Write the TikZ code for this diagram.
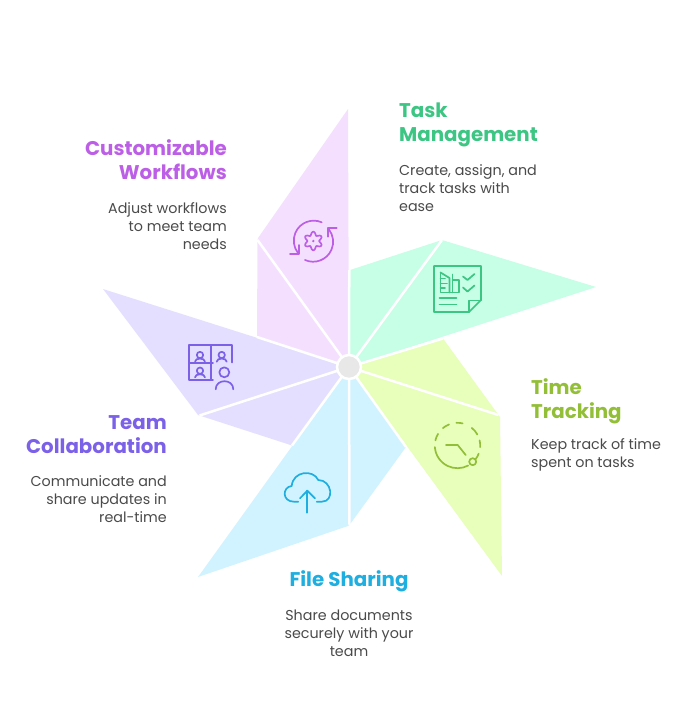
\documentclass[tikz,border=0pt]{standalone}
\usepackage{fontspec}
\usepackage{xcolor}
\usepackage{tikz}
\usetikzlibrary{positioning}
\setmainfont{Poppins}
\definecolor{taskfill}{HTML}{C7FEE6}
\definecolor{timefill}{HTML}{E7FFBA}
\definecolor{filefill}{HTML}{D1F3FF}
\definecolor{teamfill}{HTML}{E5DFFF}
\definecolor{flowfill}{HTML}{F4E0FE}
\definecolor{taskink}{HTML}{3CC583}
\definecolor{timeink}{HTML}{93BF38}
\definecolor{fileink}{HTML}{1FAEE0}
\definecolor{teamink}{HTML}{7B61E8}
\definecolor{flowink}{HTML}{BC5FE6}
\definecolor{bodyink}{HTML}{4A4A4A}
\tikzset{
	gap/.style={white, line width=2.5pt},
	icon/.style={line width=1.7pt, line join=round, line cap=round},
	title/.style={inner sep=0pt, font=\fontsize{19.8}{24}\selectfont\bfseries, text depth=0pt},
	body/.style={inner sep=0pt, text=bodyink, font=\fontsize{14.3}{18}\selectfont}
}

\begin{document}
\begin{tikzpicture}[x=1pt, y=-1pt]
	\useasboundingbox (0,0) rectangle (698,710);
	
	\coordinate (hub) at (349,367);
	\coordinate (taskA) at (349.3,270);
	\coordinate (taskB) at (442,240);
	\coordinate (taskC) at (596,287);
	\coordinate (timeA) at (443,338.5);
	\coordinate (timeB) at (498.5,415);
	\coordinate (timeC) at (502,576);
	\coordinate (fileA) at (406,447);
	\coordinate (fileB) at (349.5,525);
	\coordinate (fileC) at (198,577);
	\coordinate (teamA) at (292,445.5);
	\coordinate (teamB) at (199.5,415.5);
	\coordinate (teamC) at (103,289);
	\coordinate (flowA) at (257,337);
	\coordinate (flowB) at (257.5,240);
	\coordinate (flowC) at (348,109);
	
	\fill[taskfill] (hub) -- (taskA) -- (350.7,269.8) -- (taskB) -- (taskC) -- cycle;
	\fill[timefill] (hub) -- (timeA) -- (timeB) -- (500,417) -- (timeC) -- cycle;
	\fill[filefill] (hub) -- (fileA) -- (fileB) -- (348,526) -- (fileC) -- cycle;
	\fill[teamfill] (hub) -- (teamA) -- (teamB) -- (198,415) -- (teamC) -- cycle;
	\fill[flowfill] (hub) -- (flowA) -- (flowB) -- (258,238) -- (flowC) -- cycle;
	
	\foreach \corner in {taskA,taskB,timeA,timeB,fileA,fileB,teamA,teamB,flowA,flowB}
		\draw[gap] (hub) -- (\corner);
	\node[circle, draw=white, line width=2.5pt, fill=black!9, minimum size=24pt, inner sep=0pt] (hubdisc) at (hub) {};
	
	% task icon
	\begin{scope}[icon, draw=taskink]
		\draw (481,300) -- (481,266) -- (434,266) -- (434,312) -- (469,312) -- cycle;
		\draw (469,312) -- (469,300.5) -- (481,300.5);
		\draw (439.5,298) -- (456.5,298);
		\draw (439.5,304.5) -- (456.5,304.5);
		\draw (463,276.5) -- (467.5,280) -- (474.5,274);
		\draw (463,287.5) -- (467.5,291.5) -- (474.5,285.5);
		\draw (440.5,272.5) -- (440.5,292.5) -- (459,292.5) -- (459,280) -- (452.5,280);
		\draw (440.5,272.5) -- (449.5,278) -- (449.5,292.5);
		\draw (452.5,274.5) -- (452.5,292.5);
		\draw (440.5,278.5) -- (445,278.5);
		\draw (440.5,283.5) -- (447,283.5);
		\draw (440.5,288) -- (445,288);
	\end{scope}
	
	% workflow icon
	\begin{scope}[icon, draw=flowink]
		\draw (321.7,222.3) arc[start angle=293.4, end angle=142, radius=20];
		\draw (305,260) arc[start angle=114, end angle=-38, radius=20];
		\draw (290,254.3) -- (299,254.3) -- (299,245);
		\draw (336.7,227.7) -- (327.7,227.7) -- (327.7,236.7);
		\draw plot[domain=0:360, samples=61, smooth] ({313.3+(7.6-1.7*cos(6*\x))*cos(\x)}, {241+(7.6-1.7*cos(6*\x))*sin(\x)});
		\fill[flowink] (313.3,241) circle[radius=1.3pt];
	\end{scope}
	
	% team icon
	\begin{scope}[icon, draw=teamink]
		\draw (231.7,362.5) -- (231.7,345) -- (189.3,345) -- (189.3,380) -- (213,380);
		\draw (210.7,345) -- (210.7,380);
		\draw (189.3,362.7) -- (213,362.7);
		\foreach \px/\py in {200/355, 221.7/355, 200/370.7} {
			\draw (\px,\py) circle[radius=3.2pt];
			\draw (\px-5,\py+6.7) .. controls (\px-5,\py+2.5) and (\px+5,\py+2.5) .. (\px+5,\py+6.7);
		}
		\draw (224.3,372.3) circle[radius=5pt];
		\draw (215.7,389.3) .. controls (215.7,378.5) and (233.3,378.5) .. (233.3,389.3);
	\end{scope}
	
	% file icon
	\begin{scope}[icon, draw=fileink]
		\draw (298.3,501.7) -- (294,501.7) .. controls (282,501.7) and (282,487) .. (291.7,486)
			.. controls (293,471) and (313,469) .. (318.3,480)
			.. controls (332,480) and (335,501.7) .. (321.7,501.7) -- (316.7,501.7);
		\draw (307.3,512.7) -- (307.3,490.7);
		\draw (300,498.3) -- (307.3,490.7) -- (315,498.3);
	\end{scope}
	
	% time icon
	\begin{scope}[icon, draw=timeink]
		\foreach \from/\to in {176/62, 193/211, 230/248, 267/283, 309/331, 347/364, 381/397}
			\draw ([shift={(\from:22.7)}]457.5,445.5) arc[start angle=\from, end angle=\to, radius=22.7];
		\draw (446,445) -- (457.7,445) -- (465.7,455);
		\draw (472.7,461.7) circle[radius=3.5pt];
	\end{scope}
	
	\node[title, text=taskink, align=left, anchor=north west] (tasktitle) at (399,102.5) {Task\\Management};
	\node[body, align=left, below=22.5pt of tasktitle.south west, anchor=north west] (taskbody) {Create, assign, and\\track tasks with\\ease};
	\node[title, text=timeink, align=left, anchor=north west] (timetitle) at (531,378.5) {Time\\Tracking};
	\node[body, align=left, below=19.5pt of timetitle.south west, anchor=north west] (timebody) {Keep track of time\\spent on tasks};
	\node[title, text=fileink, anchor=north] (filetitle) at (349,570.5) {File Sharing};
	\node[body, align=center, below=22.5pt of filetitle] (filebody) {Share documents\\securely with your\\team};
	\node[title, text=teamink, align=right, anchor=north east] (teamtitle) at (167,415) {Team\\Collaboration};
	\node[body, align=right, below=22.5pt of teamtitle.south east, anchor=north east] (teambody) {Communicate and\\share updates in\\real-time};
	\node[title, text=flowink, align=right, anchor=north east] (flowtitle) at (227,139.5) {Customizable\\Workflows};
	\node[body, align=right, below=22.5pt of flowtitle.south east, anchor=north east] (flowbody) {Adjust workflows\\to meet team\\needs};
\end{tikzpicture}
\end{document}
